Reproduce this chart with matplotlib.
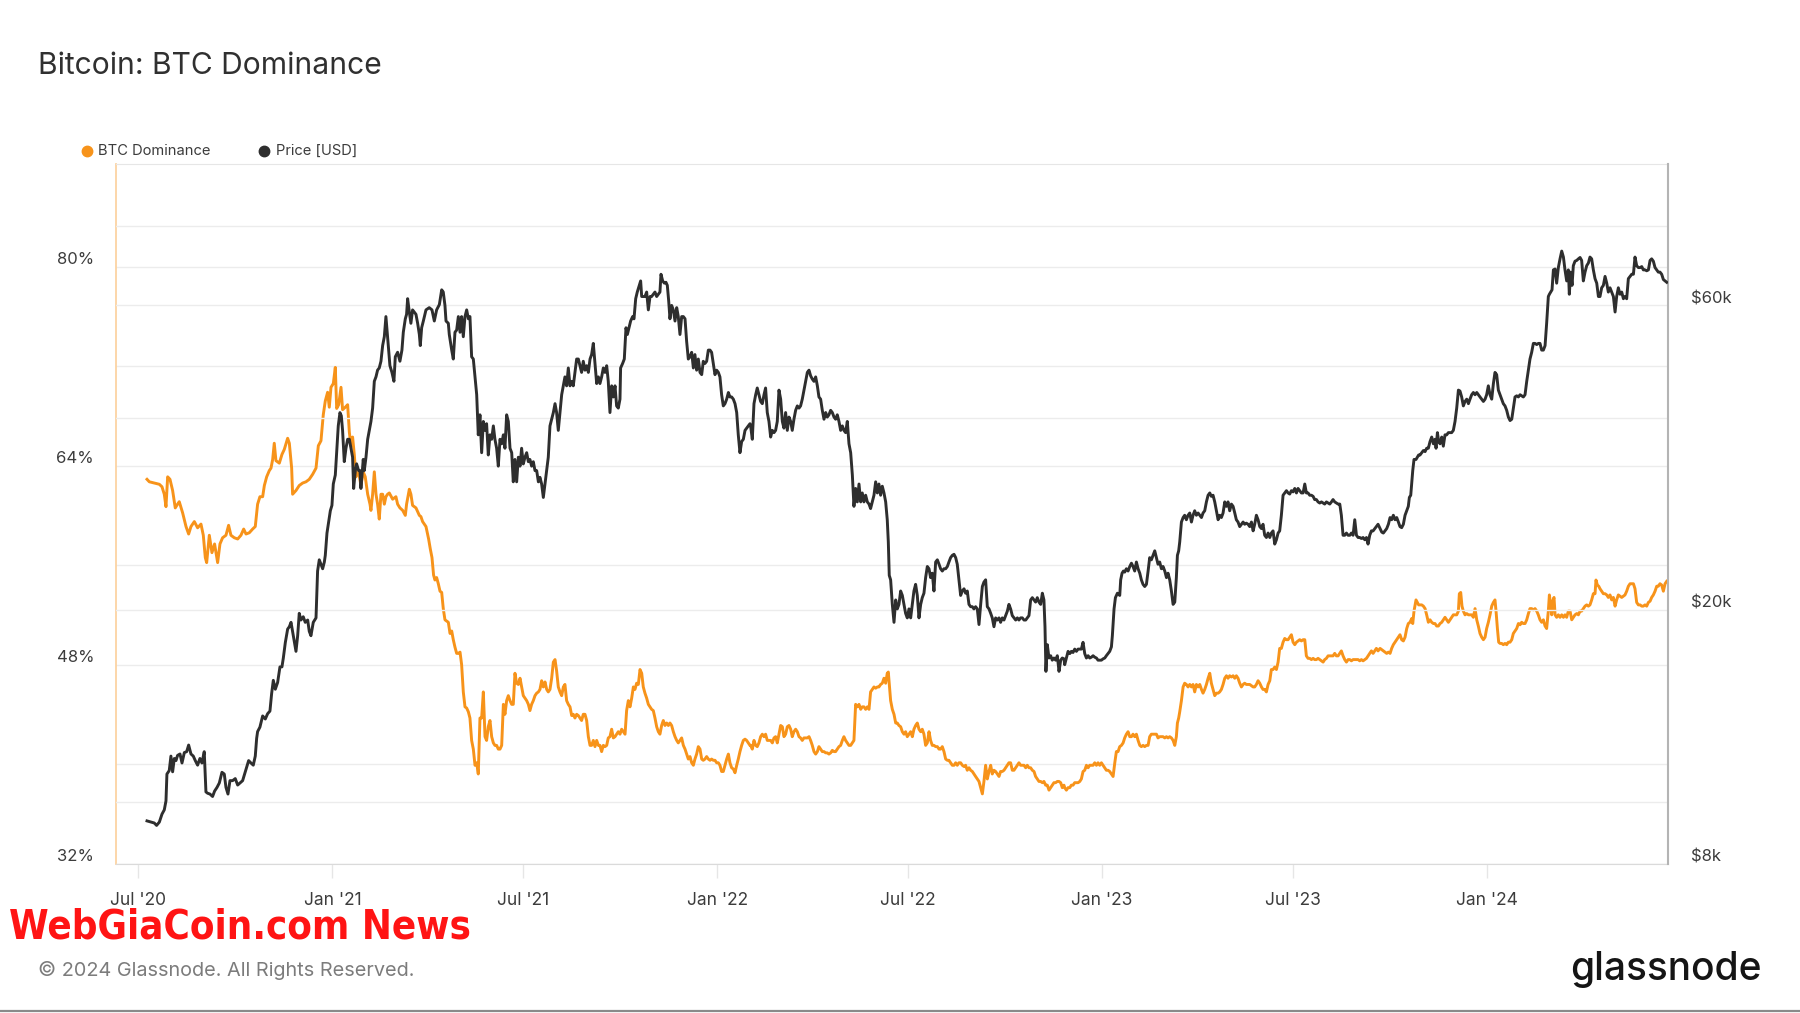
import numpy as np
import pandas as pd
import matplotlib
matplotlib.use("Agg")
import matplotlib.pyplot as plt
from matplotlib.lines import Line2D
from matplotlib.transforms import ScaledTranslation, blended_transform_factory
from matplotlib.ticker import NullLocator

# ---------------- data ----------------
START = pd.Timestamp("2020-07-01")   # day 0 of the day-offset arrays

price_day = [
    8.1, 11.9, 15.0, 17.2, 19.8, 22.3, 24.5, 26.1, 27.0, 29.2,
    30.8, 32.4, 34.0, 35.6, 37.1, 39.4, 41.3, 43.5, 45.7, 47.6,
    49.8, 52.0, 53.9, 56.1, 58.3, 60.2, 62.4, 64.0, 65.6, 67.8,
    70.3, 72.2, 74.5, 76.7, 79.2, 81.4, 83.0, 84.9, 86.8, 89.3,
    91.8, 94.1, 96.3, 98.8, 101.9, 104.5, 106.7, 108.9, 110.8, 112.1,
    113.0, 115.2, 117.8, 120.3, 122.5, 124.7, 126.3, 127.9, 129.8, 132.0,
    134.2, 136.1, 137.4, 139.3, 141.5, 143.1, 144.7, 146.9, 149.4, 151.0,
    152.5, 154.1, 156.3, 158.2, 160.5, 162.0, 163.6, 165.8, 168.4, 169.9,
    171.5, 173.1, 174.7, 176.3, 177.2, 178.8, 180.4, 182.0, 183.5, 184.8,
    186.7, 188.0, 189.5, 191.1, 192.4, 193.6, 195.2, 196.8, 198.4, 200.0,
    201.5, 203.1, 204.1, 205.7, 206.9, 208.8, 210.1, 211.0, 212.0, 213.2,
    214.2, 215.8, 217.4, 218.9, 220.5, 222.1, 223.7, 225.3, 226.8, 228.4,
    230.0, 231.6, 233.2, 234.7, 236.3, 237.3, 238.5, 240.4, 242.3, 243.6,
    245.8, 248.0, 249.9, 251.2, 253.1, 254.3, 255.3, 256.9, 258.4, 260.0,
    261.6, 263.2, 264.8, 266.4, 267.3, 268.6, 270.2, 272.7, 275.8, 278.4,
    280.6,
    282.8, 285.4, 287.6, 289.1, 290.7, 291.7, 293.9, 294.8, 297.1, 298.6,
    300.2, 301.8, 303.4, 305.0, 306.5, 308.1, 309.7, 311.3, 312.9, 314.4,
    316.0, 317.6, 319.2, 320.8, 322.3, 323.9, 325.5, 327.1, 328.7, 330.2,
    331.8, 333.4, 335.0, 336.6, 338.1, 339.7, 341.3, 342.9, 344.5, 346.1,
    347.6, 349.2, 350.8, 352.4, 354.0, 355.5, 357.1, 358.7, 360.3, 361.9,
    363.4, 365.0, 366.6, 368.2, 369.8, 371.3, 372.9, 374.5, 376.1, 377.7,
    379.3, 380.8, 382.4, 384.0, 385.6, 387.2, 388.7, 390.3, 391.9, 393.5,
    395.1, 396.6, 398.2, 399.8, 401.4, 403.0, 404.5, 406.1, 407.7, 409.3,
    410.9, 412.4, 414.0, 415.6, 417.2, 418.8, 420.3, 421.9, 423.5, 425.1,
    426.7, 428.3, 429.8, 431.4, 433.0, 434.6, 436.2, 437.7, 439.3, 440.9,
    442.5, 444.1, 445.6, 447.2, 448.8, 450.4, 452.0, 453.5, 455.1, 456.7,
    457.3, 459.2, 460.8, 462.4, 463.7, 465.2, 466.8, 468.7, 470.0, 471.6,
    473.1, 475.0, 476.3, 477.3, 478.8, 480.4, 482.0, 483.6, 485.2, 486.7,
    488.3, 489.9, 491.5, 493.1, 494.6, 495.6, 497.2, 498.8, 500.3, 501.6,
    502.9, 504.1, 505.7, 507.3, 508.9, 510.5, 512.0, 513.6, 515.2, 516.8,
    518.4, 519.9, 521.5, 523.1, 524.7, 526.3, 527.8, 529.4, 531.0, 532.6,
    534.2, 535.7, 537.3, 538.9, 540.5, 542.1, 543.6, 545.2, 546.8, 548.4,
    550.0, 551.5, 553.1, 554.7, 556.3, 557.9, 559.5, 561.0, 562.6, 564.2,
    565.8, 567.4, 568.9, 570.5, 572.1, 573.7, 575.3, 576.8, 578.4, 580.0,
    580.6, 582.2, 583.8, 585.4, 586.9, 588.5, 590.1, 591.7, 593.3, 594.8,
    596.4, 598.0, 599.6, 601.2, 602.8, 604.3, 605.9, 607.5, 609.1, 610.7,
    612.2, 613.8, 615.4, 617.0, 618.6, 620.1, 621.7, 623.3, 624.9, 626.5,
    628.0, 629.6, 631.2, 632.8, 634.4, 636.0, 637.5, 639.1, 640.7, 642.3,
    643.9, 645.4, 647.0, 648.6, 650.2, 651.8, 653.3, 654.9, 656.5, 658.1,
    659.7, 661.2, 662.8, 664.4, 666.0, 667.6, 669.1, 670.7, 672.3, 673.9,
    675.5, 677.1, 678.6, 680.2, 681.8, 683.4, 685.0, 686.5, 688.1, 689.7,
    691.3, 692.9, 694.4, 696.0, 697.6, 699.2, 700.8, 702.3, 703.9, 705.5,
    707.1, 708.7, 710.2, 711.2, 712.1, 713.4, 715.0, 716.6, 718.2, 719.7,
    721.3, 722.9, 724.5, 726.1, 727.6, 729.2, 730.8, 732.4, 734.0, 735.5,
    737.1, 738.7, 740.3, 741.9, 743.4, 745.0, 746.6, 748.2, 749.8, 751.3,
    752.9, 754.5, 756.1, 757.7, 759.3, 760.8, 762.4, 764.0, 765.6, 767.2,
    768.7, 770.3, 771.9, 773.5, 775.1, 776.6, 778.2, 779.8, 781.4, 783.0,
    784.5, 786.1, 787.7, 789.3, 790.9, 792.4, 794.0, 795.6, 797.2, 798.8,
    800.4, 801.9, 803.5, 805.1, 806.7, 808.3, 809.8, 811.4, 813.0, 814.6,
    816.2, 817.7, 819.3, 820.9, 822.5, 824.1, 825.6, 827.2, 828.8, 830.4,
    832.0, 833.6, 835.1, 836.7, 838.3, 839.9, 841.5, 843.0, 844.6, 846.2,
    847.8, 849.4, 850.9, 852.5, 854.1, 855.7, 857.3, 858.8, 859.8, 860.7,
    862.0, 863.6, 865.2, 866.7, 868.3, 869.9, 871.5, 873.1, 874.7, 876.2,
    877.8,
    878.5, 880.1, 881.7, 883.3, 884.8, 886.4, 888.0, 889.6, 891.2, 892.8,
    894.3, 895.9, 897.5, 899.1, 900.7, 902.2, 903.8, 905.4, 907.0, 908.6,
    910.1, 911.7, 913.3, 914.9, 916.5, 918.0, 919.6, 921.2, 922.8, 923.7,
    925.3, 926.6, 928.5, 930.7, 931.6, 932.9, 934.2, 935.4, 937.0, 938.6,
    940.2, 941.8, 943.3, 944.9, 946.5, 948.1, 949.7, 951.2, 952.8, 954.4,
    956.0, 957.6, 959.1, 960.7, 962.3, 963.9, 965.5, 967.0, 968.6, 970.2,
    971.8, 973.4, 975.0, 976.5, 978.1, 979.7, 981.3, 982.9, 984.4, 985.4,
    986.6, 987.6, 989.2, 990.8, 992.3, 993.9, 995.5, 997.1, 998.7, 1000.2,
    1001.8, 1003.4, 1005.0, 1006.6, 1008.2, 1009.7, 1011.3, 1012.9, 1014.5, 1016.1,
    1017.6, 1019.2, 1020.8, 1022.4, 1024.0, 1025.5, 1027.1, 1028.7, 1030.3, 1031.9,
    1033.4, 1035.0, 1036.6, 1038.2, 1039.8, 1041.3, 1042.9, 1044.5, 1046.1, 1047.7,
    1049.2, 1050.8, 1052.4, 1054.0, 1055.6, 1057.2, 1058.7, 1060.3, 1061.9, 1063.5,
    1065.1, 1066.6, 1068.2, 1069.8, 1071.4, 1073.0, 1074.5, 1076.1, 1077.7, 1079.3,
    1080.9, 1082.4, 1084.0, 1085.6, 1087.2, 1088.8, 1090.4, 1091.9, 1093.5, 1095.1,
    1096.7, 1098.3, 1099.8, 1101.4, 1103.0, 1104.6, 1106.2, 1107.7, 1109.3, 1110.9,
    1112.5, 1114.1, 1115.6, 1117.2, 1118.8, 1120.4, 1122.0, 1123.6, 1125.1, 1126.7,
    1128.3, 1129.9, 1131.5, 1133.0, 1134.6, 1136.2, 1137.8, 1139.4, 1140.9, 1142.5,
    1144.1, 1145.7, 1147.3, 1148.9, 1150.4, 1152.0, 1153.6, 1155.2, 1156.8, 1158.3,
    1159.9, 1161.5, 1163.1, 1164.7, 1166.2, 1167.8, 1169.4, 1171.0, 1172.6, 1174.1,
    1175.7,
    1177.6, 1179.2, 1180.7, 1182.3, 1183.9, 1185.5, 1187.1, 1188.6, 1190.2, 1191.8,
    1193.4, 1195.0, 1196.5, 1198.1, 1199.7, 1201.3, 1202.9, 1204.4, 1205.4, 1206.7,
    1207.6, 1208.6, 1209.8, 1211.7, 1213.0, 1214.2, 1215.5, 1217.1, 1218.7, 1220.3,
    1221.8, 1223.4, 1225.0, 1226.6, 1228.2, 1229.7, 1230.7, 1232.0, 1233.2, 1234.5,
    1236.1, 1237.6, 1239.2, 1240.8, 1242.4, 1244.0, 1245.5, 1247.1, 1248.7, 1250.3,
    1251.9, 1253.4, 1255.0, 1256.6, 1258.2, 1259.8, 1261.4, 1262.9, 1264.5, 1266.1,
    1267.7, 1269.3, 1270.8, 1272.4, 1274.0, 1275.6, 1277.2, 1278.7, 1280.3, 1281.9,
    1283.5, 1285.1, 1286.6, 1288.2, 1289.8, 1291.4, 1293.0, 1294.5, 1296.1, 1297.7,
    1299.3, 1300.9, 1302.5, 1304.0, 1305.6, 1307.2, 1308.8, 1310.4, 1311.9, 1313.5,
    1315.1, 1316.7, 1318.3, 1319.8, 1321.4, 1323.0, 1324.6, 1326.2, 1327.7, 1329.3,
    1330.9, 1332.5, 1334.1, 1335.6, 1337.2, 1338.2, 1339.4, 1340.7, 1342.0, 1343.6,
    1345.1, 1346.7, 1348.3, 1349.9, 1351.5, 1353.0, 1354.6, 1356.2, 1357.1, 1358.4,
    1359.7, 1360.9, 1362.5, 1364.1, 1365.7, 1367.3, 1368.8, 1370.4, 1372.0, 1373.6,
    1375.2, 1376.7, 1378.3, 1379.9, 1381.5, 1383.1, 1384.7, 1386.2, 1387.8, 1389.4,
    1391.0, 1392.6, 1394.1, 1395.7, 1397.3, 1398.9, 1400.5, 1402.0, 1403.6, 1405.2,
    1406.8, 1408.4, 1409.9, 1411.5, 1413.1, 1414.7, 1416.3, 1417.9, 1419.4, 1421.0,
    1422.6, 1424.2, 1425.8, 1427.3, 1428.9, 1430.5, 1432.1, 1433.7, 1435.2, 1436.8,
    1438.4, 1440.0, 1441.5, 1443.1, 1444.7, 1446.3, 1447.9, 1449.5,
]

price_usd = [
    9330, 9290, 9260, 9180, 9290, 9560, 9710, 10030, 11050, 11190,
    11790, 11140, 11690, 11600, 11820, 11880, 11500, 11940, 11980, 12270,
    11880, 11790, 11600, 11410, 11690, 11500, 11980, 10360, 10310, 10280,
    10190, 10390, 10530, 10700, 11120, 11050, 10530, 10280, 10790, 10790,
    10870, 10620, 10700, 10790, 11230, 11600, 11500, 11410, 11790, 12570,
    12880, 13090, 13630, 13480, 13740, 13870, 14770, 15500, 15010, 15380,
    16270, 16270, 16800, 17770, 18650, 18810, 19110, 18210, 17210, 18210,
    19740, 19270, 19500, 19110, 19270, 18500, 18210, 19110, 19420, 23000,
    23950, 23570, 23190, 23760, 24340, 26380, 27470, 28600, 29150, 31500,
    32530, 35260, 38840, 40750, 40290, 38220, 34140, 35830, 37010, 37010,
    35830, 34690, 30990, 33060, 33870, 33060, 33060, 30990, 32530, 34420,
    33060, 34690, 37010, 38220, 39470, 41420, 45630, 46380, 47510, 47890,
    49060, 51910, 53610, 57640, 53610, 51080, 48280, 47130, 45630, 49860,
    50670, 49060, 51080, 54480, 57180, 58110, 61490, 58580, 56260, 59050,
    58580, 58110, 56260, 54040, 51910, 55370, 56730, 59050, 59530, 59050,
    56730,
    59050, 60200, 63490, 62980, 60010, 56720, 56260, 54030, 51070, 49450,
    54470, 54910, 57640, 54470, 57640, 53600, 57640, 59050, 57180, 57640,
    49850, 49450, 46360, 43470, 37610, 40430, 35260, 39470, 38220, 39150,
    34970, 37610, 37010, 38840, 37010, 35830, 33590, 37010, 36410, 37610,
    35830, 40430, 39470, 35830, 35260, 31740, 34410, 31740, 34690, 33590,
    35830, 33860, 34690, 35260, 34130, 34410, 33590, 34130, 33050, 33050,
    31740, 32260, 31490, 30000, 31490, 33050, 34690, 38840, 39790, 40760,
    42090, 40760, 38220, 40760, 43470, 44890, 46360, 44890, 47880, 44890,
    45620, 44890, 47120, 49450, 49450, 48270, 47120, 49050, 47500, 48270,
    47120, 49450, 50250, 52320, 48660, 45260, 46360, 45260, 46360, 47880,
    47120, 48270, 45620, 40760, 44890, 43120, 44890, 41750, 41420, 42780,
    47880, 48660, 49450, 55360, 54030, 55360, 56720, 57640, 57180, 61480,
    62980, 64520, 65560, 61970, 61970, 61970, 62980, 59050, 61970, 61970,
    62480, 62980, 61970, 62480, 62980, 67160, 65560, 65030, 65240, 64520,
    60990, 57180, 60010, 59050, 56720, 59530, 57640, 54030, 57640, 57640,
    57180, 52750, 49450, 49850, 50660, 47880, 50250, 47500, 49450, 47120,
    46740, 49050, 48660, 49050, 51070, 51070, 50660, 48660, 46740, 47500,
    47120, 46360, 43470, 41750, 42090, 42780, 43820, 43120, 43120, 42780,
    42090, 40760, 37610, 35260, 36710, 37010, 38220, 38530, 38840, 39150,
    38840, 37010, 42090, 43470, 44540, 43470, 42430, 42090, 43470, 44540,
    40760, 39470, 37310, 38220, 37910, 38220, 39470, 44200, 42780, 39470,
    38530, 40760, 38220, 40100, 39470, 38220, 39790, 41090, 41750, 41420,
    41750, 42780, 44200, 45620, 47120, 47500, 46550, 46000, 45620, 46360,
    44890, 43120, 42780, 41090, 39790, 40760, 40100, 40430, 41090, 40760,
    40100, 39790, 40430, 39470, 38220, 38840, 38220, 37910, 39470, 36410,
    35260, 32520, 29050, 30990, 29520, 31490, 29520, 30490, 29520, 30240,
    29520, 29290, 28820, 29520, 30240, 31740, 30490, 31490, 30240, 31240,
    30490, 29520, 27680, 25550, 22640, 22280, 20390, 19110, 20720, 20060,
    20390, 21400, 21060, 20390, 19740, 19420, 20060, 19420, 20390, 21400,
    21920, 21060, 19420, 20390, 20890, 21230, 22460, 23380, 23190, 22460,
    22820, 21400, 23760, 23950, 23570, 23190, 23000, 23190, 23190, 23380,
    23760, 24140, 24340, 24430, 24140, 23570, 22280, 21060, 21400, 21570,
    21230, 21400, 20390, 20220, 20220, 20060, 20220, 20060, 18960, 20390,
    21750, 22100, 22280, 20220, 20060, 19740, 19420, 18810, 19420, 19270,
    19420, 19110, 19420, 19270, 19580, 19900, 20390, 20060, 19580, 19420,
    19270, 19420, 19270, 19420, 19420, 19270, 19270, 19420, 19580, 20720,
    20890, 20720, 20560, 20890, 20560, 20390, 21230, 20720, 18810, 16010,
    17630, 16800, 16940, 16670, 16800, 16670, 16940, 16010, 16670, 16800,
    16750,
    16400, 16800, 17210, 17070, 17210, 17140, 17350, 17210, 17350, 17350,
    17350, 17780, 17070, 16800, 16940, 16800, 16850, 16940, 16850, 16800,
    16670, 16670, 16670, 16750, 16800, 16940, 17070, 17210, 17490, 18210,
    20060, 20890, 21230, 21060, 22280, 22820, 23000, 22910, 23190, 23000,
    23380, 23660, 23380, 23000, 23760, 23190, 22820, 22280, 21920, 21750,
    21920, 23000, 24140, 23950, 24340, 24740, 24140, 23570, 23760, 23190,
    23380, 23000, 22460, 22820, 22280, 21400, 20390, 20560, 22460, 24340,
    24740, 25550, 27450, 27900, 28130, 27680, 28130, 28360, 27450, 28130,
    28590, 28130, 28360, 28130, 27900, 28360, 28590, 29520, 30240, 30490,
    30120, 30240, 29520, 28590, 27680, 28130, 27900, 28360, 29520, 29050,
    29520, 28590, 29290, 29050, 28360, 27680, 27450, 27000, 27230, 27450,
    27230, 27340, 27230, 27000, 27450, 26590, 27230, 28130, 27680, 27000,
    26810, 27230, 26170, 25960, 26380, 25960, 26380, 26590, 25350, 25750,
    26380, 26590, 28130, 30240, 30490, 30740, 30490, 30370, 30740, 30610,
    30990, 30490, 30990, 30740, 30490, 30490, 31490, 30490, 30490, 30240,
    30240, 30120, 29770, 29770, 29520, 29400, 29520, 29400, 29290, 29520,
    29400, 29290, 29520, 29770, 29520, 29400, 29290, 29290, 28130, 26170,
    26170, 26380, 26170, 26170, 26380, 26170, 27680, 26170, 25960, 25960,
    25870, 25960, 25750, 25960, 25350, 26170, 26590, 26590, 26810, 27000,
    27230,
    26810, 26470, 26380, 26590, 26810, 27230, 27900, 27680, 28130, 27680,
    27900, 27450, 27000, 26900, 27230, 28130, 28590, 29050, 30000, 30240,
    31490, 33050, 34410, 34410, 34690, 34970, 34970, 35260, 35540, 35400,
    35830, 35830, 36710, 37310, 36410, 37010, 35830, 37910, 36710, 36410,
    37310, 36100, 37610, 37610, 37910, 37910, 37910, 38220, 39470, 41420,
    44200, 44060, 43120, 41750, 42430, 42780, 42090, 42780, 43470, 43820,
    43470, 43820, 43470, 43120, 42780, 42430, 42780, 43470, 44890, 43470,
    42780, 45260, 47120, 46740, 44200, 43470, 42780, 42090, 41750, 41090,
    40100, 39600, 39790, 41420, 43120, 43300, 43120, 43470, 43300, 43120,
    43470, 45620, 47500, 49450, 50660, 52320, 52320, 52100, 52320, 52320,
    51070, 51070, 51900, 56260, 61970, 62480, 62980, 63490, 68230, 68450,
    65030, 68800, 71000, 73020, 71460, 68230, 65560, 68230, 62480, 67680,
    64520, 69270, 70400, 70600, 71000, 71350, 70600, 65560, 67680, 69270,
    69950, 71460, 71000, 68230, 66100, 65030, 61970, 61970, 63960, 64520,
    66640, 65030, 62980, 63960, 62980, 61970, 58600, 61970, 63960, 62480,
    62980, 61480, 61970, 61480, 66100, 66640, 67160, 67160, 71460, 69270,
    68800, 68800, 69040, 68230, 68230, 68010, 68230, 70600, 71000, 70400,
    68800, 68230, 67680, 67680, 67160, 65900, 65560, 65240,
]

dom_day = [
    8.1, 10.3, 15.0, 19.8, 22.3, 24.5, 26.1, 27.7, 29.9, 32.4,
    34.9, 37.1, 38.7, 41.9, 45.1, 47.6, 49.8, 53.0, 56.1, 59.3,
    61.5, 63.4, 64.7, 67.2, 69.7, 72.2, 75.1, 77.3, 79.8, 83.0,
    85.5, 87.7, 90.9, 94.1, 97.2, 99.8, 102.0, 105.1, 108.3, 110.8,
    113.0, 115.2, 117.8, 119.4, 121.6, 124.1, 125.7, 127.3, 128.8, 130.4,
    133.6, 136.1, 138.3, 141.5, 143.1, 145.3, 146.2, 149.4, 152.5, 155.7,
    158.9, 162.0, 165.2, 168.4, 170.6, 173.1, 175.3, 177.2, 179.4, 181.0,
    182.6, 184.8, 186.7, 188.0, 189.9, 192.1, 193.6, 196.2, 198.4, 200.0,
    201.5, 203.1, 204.7, 206.3, 208.8, 211.0, 213.2, 215.1, 217.4, 219.6,
    220.5, 222.1, 223.7, 225.3, 226.8, 228.4, 230.0, 231.6, 233.2, 234.7,
    236.3, 237.9, 241.1, 244.2, 245.8, 248.0, 250.6, 253.1, 254.3, 256.9,
    258.4, 260.0, 263.2, 266.4, 267.9, 269.5, 272.7, 275.2, 276.8, 278.4,
    279.9, 281.2,
    282.8, 284.4, 286.0, 287.6, 289.1, 290.7, 292.3, 293.9, 295.5, 297.1,
    298.6, 300.2, 301.8, 303.4, 305.0, 306.5, 308.1, 309.7, 311.3, 312.9,
    314.4, 316.0, 317.6, 319.2, 320.8, 322.3, 323.9, 325.5, 327.1, 328.7,
    330.2, 331.8, 333.4, 335.0, 336.6, 338.1, 339.7, 341.3, 342.9, 344.5,
    346.1, 347.6, 349.2, 350.8, 352.4, 354.0, 355.5, 357.1, 358.7, 360.3,
    361.9, 363.4, 365.0, 366.6, 368.2, 369.8, 371.3, 372.9, 374.5, 376.1,
    377.7, 379.3, 380.8, 382.4, 384.0, 385.6, 387.2, 388.7, 390.3, 391.9,
    393.5, 395.1, 396.6, 398.2, 399.8, 401.4, 403.0, 404.5, 406.1, 407.7,
    409.3, 410.9, 412.4, 414.0, 415.6, 417.2, 418.8, 420.3, 421.9, 423.5,
    425.1, 426.7, 428.3, 429.8, 431.4, 433.0, 434.6, 436.2, 437.7, 439.3,
    440.9, 442.5, 444.1, 445.6, 447.2, 448.8, 450.4, 452.0, 453.5, 455.1,
    456.7, 458.3, 459.9, 461.5, 463.0, 464.6, 466.2, 467.8, 469.4, 470.9,
    472.5, 474.1, 475.7, 477.3, 478.8, 480.4, 482.0, 483.6, 485.2, 486.7,
    488.3, 489.9, 491.5, 493.1, 494.6, 496.2, 497.8, 499.4, 501.0, 502.6,
    504.1, 505.7, 507.3, 508.9, 510.5, 512.0, 513.6, 515.2, 516.8, 518.4,
    519.9, 521.5, 523.1, 524.7, 526.3, 527.8, 529.4, 531.0, 532.6, 534.2,
    535.7, 537.3, 538.9, 540.5, 542.1, 543.6, 545.2, 546.8, 548.4, 550.0,
    551.5, 553.1, 554.7, 556.3, 557.9, 559.5, 561.0, 562.6, 564.2, 565.8,
    567.4, 568.9, 570.5, 572.1, 573.7, 575.3, 576.8, 578.4, 580.0,
    580.6, 582.2, 583.8, 585.4, 586.9, 588.5, 590.1, 591.7, 593.3, 594.8,
    596.4, 598.0, 599.6, 601.2, 602.8, 604.3, 605.9, 607.5, 609.1, 610.7,
    612.2, 613.8, 615.4, 617.0, 618.6, 620.1, 621.7, 623.3, 624.9, 626.5,
    628.0, 629.6, 631.2, 632.8, 634.4, 636.0, 637.5, 639.1, 640.7, 642.3,
    643.9, 645.4, 647.0, 648.6, 650.2, 651.8, 653.3, 654.9, 656.5, 658.1,
    659.7, 661.2, 662.8, 664.4, 666.0, 667.6, 669.1, 670.7, 672.3, 673.9,
    675.5, 677.1, 678.6, 680.2, 681.8, 683.4, 685.0, 686.5, 688.1, 689.7,
    691.3, 692.9, 694.4, 696.0, 697.6, 699.2, 700.8, 702.3, 703.9, 705.5,
    707.1, 708.7, 710.2, 711.2, 712.1, 713.4, 715.0, 716.6, 718.2, 719.7,
    721.3, 722.9, 724.5, 726.1, 727.6, 729.2, 730.8, 732.4, 734.0, 735.5,
    737.1, 738.7, 740.3, 741.9, 743.4, 745.0, 746.6, 748.2, 749.8, 751.3,
    752.9, 754.5, 756.1, 757.7, 759.3, 760.8, 762.4, 764.0, 765.6, 767.2,
    768.7, 770.3, 771.9, 773.5, 775.1, 776.6, 778.2, 779.8, 781.4, 783.0,
    784.5, 786.1, 787.7, 789.3, 790.9, 792.4, 794.0, 795.6, 797.2, 798.8,
    800.4, 801.9, 803.5, 805.1, 806.7, 808.3, 809.8, 811.4, 813.0, 814.6,
    816.2, 817.7, 819.3, 820.9, 822.5, 824.1, 825.6, 827.2, 828.8, 830.4,
    832.0, 833.6, 835.1, 836.7, 838.3, 839.9, 841.5, 843.0, 844.6, 846.2,
    847.8, 849.4, 850.9, 852.5, 854.1, 855.7, 857.3, 858.8, 860.4, 862.0,
    863.6, 865.2, 866.7, 868.3, 869.9, 871.5, 873.1, 874.7, 876.2, 877.8,
    878.5, 880.1, 881.7, 883.3, 884.8, 886.4, 888.0, 889.6, 891.2, 892.8,
    894.3, 895.9, 897.5, 899.1, 900.7, 902.2, 903.8, 905.4, 907.0, 908.6,
    910.1, 911.7, 913.3, 914.9, 916.5, 918.0, 919.6, 921.2, 922.8, 924.4,
    926.0, 927.5, 929.1, 930.7, 932.3, 933.9, 935.4, 937.0, 938.6, 940.2,
    941.8, 943.3, 944.9, 946.5, 948.1, 949.7, 951.2, 952.8, 954.4, 956.0,
    957.6, 959.1, 960.7, 962.3, 963.9, 965.5, 967.0, 968.6, 970.2, 971.8,
    973.4, 975.0, 976.5, 978.1, 979.7, 981.3, 982.9, 984.4, 985.4, 986.6,
    987.6, 989.2, 990.8, 992.3, 993.9, 995.5, 997.1, 998.7, 1000.2, 1001.8,
    1003.4, 1005.0, 1006.6, 1008.2, 1009.7, 1011.3, 1012.9, 1014.5, 1016.1, 1017.6,
    1019.2, 1020.8, 1022.4, 1024.0, 1025.5, 1027.1, 1028.7, 1030.3, 1031.9, 1033.4,
    1035.0, 1036.6, 1038.2, 1039.8, 1041.3, 1042.9, 1044.5, 1046.1, 1047.7, 1049.2,
    1050.8, 1052.4, 1054.0, 1055.6, 1057.2, 1058.7, 1060.3, 1061.9, 1063.5, 1065.1,
    1066.6, 1068.2, 1069.8, 1071.4, 1073.0, 1074.5, 1076.1, 1077.7, 1079.3, 1080.9,
    1082.4, 1084.0, 1085.6, 1087.2, 1088.8, 1090.4, 1091.9, 1093.5, 1095.1, 1096.7,
    1098.3, 1099.8, 1101.4, 1103.0, 1104.6, 1106.2, 1107.7, 1109.3, 1110.9, 1112.5,
    1114.1, 1115.6, 1117.2, 1118.8, 1120.4, 1122.0, 1123.6, 1125.1, 1126.7, 1128.3,
    1129.9, 1131.5, 1133.0, 1134.6, 1136.2, 1137.8, 1139.4, 1140.9, 1142.5, 1144.1,
    1145.7, 1147.3, 1148.9, 1150.4, 1152.0, 1153.6, 1155.2, 1156.8, 1158.3, 1159.9,
    1161.5, 1163.1, 1164.7, 1166.2, 1167.8, 1169.4, 1171.0, 1172.6, 1174.1, 1175.7,
    1177.6, 1179.2, 1180.7, 1182.3, 1183.9, 1185.5, 1187.1, 1188.6, 1190.2, 1191.8,
    1193.4, 1195.0, 1196.5, 1198.1, 1199.7, 1201.3, 1202.9, 1204.4, 1206.0, 1207.6,
    1208.6, 1209.8, 1210.8, 1211.7, 1213.0, 1214.2, 1215.5, 1217.1, 1218.7, 1220.3,
    1221.8, 1223.4, 1225.0, 1226.6, 1228.2, 1229.7, 1231.3, 1232.9, 1234.5, 1236.1,
    1237.6, 1239.2, 1240.8, 1242.4, 1244.0, 1245.5, 1247.1, 1248.7, 1250.3, 1251.9,
    1252.8, 1254.1, 1255.3, 1256.6, 1258.2, 1259.8, 1261.4, 1262.9, 1264.5, 1266.1,
    1267.7, 1269.3, 1270.8, 1272.4, 1274.0, 1275.6, 1277.2, 1278.7, 1280.3, 1281.9,
    1283.5, 1285.1, 1286.6, 1287.6, 1288.9, 1290.1, 1291.4, 1293.0, 1294.5, 1296.1,
    1297.7, 1299.3, 1300.9, 1302.5, 1304.0, 1305.6, 1307.2, 1308.8, 1310.4, 1311.9,
    1313.5, 1315.1, 1316.7, 1318.3, 1319.8, 1321.4, 1323.0, 1324.6, 1326.2, 1327.7,
    1329.3, 1330.9, 1332.5, 1334.1, 1335.6, 1337.2, 1338.2, 1339.4, 1340.4, 1341.7,
    1342.6, 1343.6, 1345.1, 1346.7, 1348.3, 1349.9, 1351.5, 1353.0, 1354.6, 1356.2,
    1357.8, 1359.4, 1360.9, 1362.5, 1364.1, 1365.7, 1367.3, 1368.8, 1370.4, 1372.0,
    1373.6, 1375.2, 1376.7, 1378.3, 1379.9, 1381.5, 1382.4, 1383.7, 1385.0, 1386.2,
    1387.8, 1389.4, 1391.0, 1392.6, 1394.1, 1395.7, 1397.3, 1398.9, 1400.5, 1402.0,
    1403.6, 1405.2, 1406.8, 1408.4, 1409.9, 1411.5, 1413.1, 1414.7, 1416.3, 1417.9,
    1419.4, 1421.0, 1422.6, 1424.2, 1425.8, 1427.3, 1428.9, 1430.5, 1432.1, 1433.7,
    1435.2, 1436.8, 1438.4, 1440.0, 1441.5, 1443.1, 1444.7, 1446.3, 1447.9, 1449.5,
]

dom_pct = [
    62.9, 62.7, 62.6, 62.5, 62.3, 61.7, 60.7, 63.1, 62.9, 62.0,
    60.6, 60.9, 61.1, 60.2, 59.1, 58.5, 59.1, 59.5, 59.0, 59.3,
    58.4, 56.6, 56.2, 58.4, 57.0, 57.7, 56.2, 57.7, 58.2, 58.4,
    59.2, 58.4, 58.2, 58.1, 58.4, 58.9, 58.5, 58.6, 58.9, 59.1,
    60.9, 61.5, 61.5, 62.4, 63.1, 63.6, 63.8, 64.5, 65.8, 64.4,
    64.2, 64.9, 65.3, 66.2, 65.8, 63.8, 61.7, 62.0, 62.4, 62.6,
    62.7, 62.9, 63.3, 63.8, 65.6, 66.0, 68.1, 69.2, 69.9, 68.7,
    70.3, 70.6, 71.9, 68.6, 68.9, 70.3, 68.5, 68.7, 68.9, 66.7,
    65.6, 66.3, 64.9, 63.1, 63.5, 62.4, 63.5, 63.1, 61.7, 60.9,
    60.4, 61.7, 63.5, 61.7, 60.9, 59.7, 61.7, 61.7, 60.9, 61.5,
    61.7, 61.8, 61.3, 61.5, 60.9, 60.6, 60.4, 60.0, 60.9, 62.1,
    61.7, 60.8, 60.6, 60.0, 59.9, 59.5, 59.1, 58.1, 57.3, 56.6,
    55.2, 54.8,
    55.0, 54.5, 53.9, 53.8, 52.5, 51.6, 51.5, 51.4, 50.5, 50.7,
    50.0, 49.4, 48.9, 48.9, 49.0, 48.0, 45.8, 44.6, 44.5, 44.2,
    43.7, 41.9, 41.2, 39.9, 40.1, 39.2, 43.7, 43.7, 45.8, 42.2,
    41.9, 43.0, 43.5, 42.2, 41.7, 41.5, 41.5, 41.2, 41.2, 41.5,
    44.8, 44.0, 45.1, 45.5, 45.1, 44.8, 44.8, 47.3, 46.5, 46.4,
    46.9, 46.2, 45.5, 45.3, 45.1, 44.8, 44.3, 44.8, 45.1, 45.5,
    45.7, 45.8, 46.0, 46.7, 46.2, 46.6, 46.0, 45.8, 46.0, 46.9,
    48.2, 48.4, 47.5, 46.2, 45.8, 45.5, 46.2, 46.4, 45.1, 44.8,
    44.6, 43.9, 44.0, 43.7, 44.0, 43.9, 43.7, 43.5, 44.0, 44.0,
    43.5, 42.2, 41.5, 41.5, 41.9, 41.4, 41.9, 41.5, 41.5, 41.0,
    41.5, 41.4, 41.5, 42.1, 42.2, 42.8, 42.1, 42.2, 42.4, 42.6,
    42.4, 42.8, 42.6, 42.4, 44.3, 45.1, 44.6, 45.3, 46.2, 46.0,
    46.5, 46.4, 47.6, 47.3, 46.2, 45.7, 45.3, 44.8, 44.6, 44.4,
    44.3, 43.7, 43.0, 42.6, 42.4, 43.1, 43.5, 43.1, 43.3, 43.1,
    43.3, 43.1, 42.6, 42.2, 41.9, 41.7, 41.9, 42.1, 41.5, 41.2,
    40.8, 40.4, 40.6, 40.1, 39.9, 40.4, 40.8, 41.4, 41.2, 40.4,
    40.3, 40.4, 40.6, 40.4, 40.3, 40.4, 40.3, 40.3, 40.1, 40.1,
    39.9, 39.4, 39.4, 39.9, 40.4, 40.8, 40.1, 39.7, 39.6, 39.3,
    39.9, 40.4, 41.0, 41.5, 41.9, 42.0, 41.9, 41.7, 41.5,
    41.5, 41.2, 41.9, 41.5, 41.4, 41.7, 42.2, 42.4, 42.2, 42.4,
    41.9, 41.9, 41.9, 41.7, 42.1, 42.2, 41.7, 42.4, 43.1, 43.0,
    42.2, 42.4, 43.0, 43.1, 42.8, 42.2, 42.6, 42.8, 42.6, 42.2,
    42.1, 41.9, 42.1, 42.1, 42.1, 42.2, 41.9, 41.5, 41.0, 40.8,
    41.0, 41.4, 41.2, 41.0, 41.0, 40.9, 40.9, 40.8, 40.9, 41.1,
    41.0, 41.0, 41.2, 41.4, 41.5, 41.9, 42.2, 41.9, 41.7, 41.5,
    41.5, 41.7, 41.9, 44.8, 44.6, 44.8, 44.4, 44.6, 44.6, 44.4,
    44.6, 44.4, 45.8, 46.0, 46.2, 46.1, 46.2, 46.2, 46.4, 46.5,
    46.9, 46.5, 47.3, 47.4, 46.5, 45.1, 44.4, 44.0, 43.3, 43.3,
    43.1, 43.0, 42.6, 42.4, 42.6, 42.2, 42.4, 42.6, 42.2, 42.8,
    43.1, 43.3, 42.8, 42.6, 42.8, 42.4, 41.5, 41.7, 42.6, 41.9,
    41.5, 41.5, 41.4, 41.4, 41.2, 41.2, 41.4, 41.0, 40.4, 40.3,
    40.3, 40.1, 39.9, 39.9, 40.1, 39.9, 40.1, 40.1, 39.9, 39.8,
    39.9, 39.5, 39.7, 39.5, 39.4, 39.2, 39.0, 38.8, 38.6, 38.1,
    37.6, 38.6, 39.9, 38.8, 39.4, 39.9, 39.2, 39.5, 39.4, 39.2,
    39.0, 39.4, 39.4, 39.5, 39.7, 39.9, 40.1, 40.1, 39.5, 39.5,
    39.7, 39.9, 40.1, 39.9, 39.9, 39.9, 39.7, 39.9, 39.7, 39.7,
    39.5, 39.4, 39.0, 38.8, 38.6, 38.6, 38.5, 38.6, 38.3, 38.3,
    37.9, 38.1, 38.3, 38.5, 38.5, 38.6, 38.6, 38.5, 38.1, 38.3,
    38.1, 37.9, 38.1, 38.1, 38.3, 38.3, 38.5, 38.5, 38.5, 38.6,
    38.8, 39.4, 39.5, 39.9, 39.7, 39.9, 39.9, 39.9, 40.1, 39.9,
    40.1, 39.9, 40.1, 39.9, 39.7, 39.5, 39.5, 39.4, 39.2, 39.0,
    40.1, 41.0, 41.0, 41.4, 41.5, 41.7, 42.1, 42.4, 42.6, 42.2,
    42.2, 42.4, 42.2, 42.4, 41.9, 41.5, 41.4, 41.5, 41.4, 41.5,
    41.5, 42.2, 42.4, 42.4, 42.4, 42.4, 42.1, 42.2, 42.2, 42.2,
    42.1, 42.2, 42.1, 42.2, 42.1, 41.9, 41.5, 42.2, 43.3, 43.7,
    44.2, 45.1, 46.2, 46.5, 46.4, 46.2, 46.4, 46.2, 46.4, 45.8,
    46.4, 46.2, 46.4, 46.0, 45.7, 46.0, 46.4, 46.9, 47.3, 46.5,
    46.0, 45.5, 45.7, 45.7, 45.8, 46.0, 46.4, 46.9, 47.1, 46.9,
    47.1, 47.0, 47.1, 46.9, 47.1, 46.9, 46.5, 46.2, 46.4, 46.5,
    46.4, 46.4, 46.4, 46.3, 46.2, 46.2, 46.4, 46.7, 46.5, 46.2,
    46.0, 46.0, 45.8, 46.4, 46.7, 47.6, 47.6, 47.8, 47.6, 48.2,
    49.3, 49.3, 49.8, 50.1, 50.0, 50.0, 50.2, 50.4, 49.8, 49.6,
    49.8, 49.9, 50.0, 49.9, 50.0, 50.0, 48.7, 48.5, 48.5, 48.4,
    48.5, 48.4, 48.4, 48.5, 48.4, 48.3, 48.2, 48.4, 48.5, 48.7,
    48.7, 48.7, 48.7, 48.9, 48.7, 48.7, 48.9, 49.1, 48.7, 48.4,
    48.2, 48.4, 48.4, 48.3, 48.4, 48.4, 48.4, 48.4, 48.3, 48.4,
    48.3, 48.4, 48.5, 48.7, 48.9, 49.1, 48.9, 49.1, 49.3, 49.1,
    49.3, 49.2, 49.1, 49.0, 48.9, 49.0, 48.9, 49.3, 49.6, 49.8,
    50.0, 50.2, 50.4, 50.0, 49.9, 50.2, 50.9, 51.3, 51.4, 51.7,
    51.3, 52.3, 52.8, 53.2, 53.0, 52.8, 52.8, 52.8, 52.7, 52.5,
    52.0, 51.4, 51.6, 51.4, 51.3, 51.3, 51.1, 51.1, 51.3, 51.4,
    51.6, 51.8, 51.6, 51.4, 51.6, 51.8, 52.0, 52.0, 52.0, 52.3,
    53.7, 53.8, 52.7, 52.3, 52.0, 52.1, 52.0, 52.0, 52.0, 51.8,
    52.5, 51.6, 51.1, 50.5, 50.2, 50.0, 50.2, 50.9, 51.4, 52.0,
    52.7, 53.0, 53.2, 52.3, 50.9, 49.8, 49.7, 49.7, 49.6, 49.7,
    49.6, 49.8, 49.8, 50.0, 50.5, 50.7, 50.9, 51.3, 51.2, 51.4,
    51.3, 51.3, 51.6, 52.1, 52.5, 52.5, 52.4, 52.5, 52.3, 52.0,
    51.6, 51.4, 51.6, 51.1, 50.9, 52.3, 53.6, 52.8, 52.0, 53.2,
    53.4, 52.0, 51.8, 52.0, 51.8, 52.0, 51.8, 52.0, 51.8, 52.3,
    52.3, 51.6, 51.8, 52.0, 52.1, 52.0, 52.3, 52.3, 52.5, 52.7,
    52.8, 52.7, 52.8, 53.2, 53.7, 53.7, 54.8, 54.4, 54.3, 54.1,
    53.9, 53.7, 53.7, 53.6, 53.4, 53.6, 53.2, 53.4, 52.7, 53.2,
    53.6, 53.5, 53.4, 53.5, 53.6, 53.9, 54.3, 54.5, 54.5, 54.5,
    54.1, 53.0, 52.8, 52.8, 52.7, 52.7, 52.8, 52.7, 53.0, 53.1,
    53.4, 53.6, 53.9, 54.3, 54.3, 54.5, 54.4, 53.9, 54.5, 54.7,
]

x_tick_dates = ["2020-07-01", "2021-01-01", "2021-07-01", "2022-01-01",
                "2022-07-01", "2023-01-01", "2023-07-01", "2024-01-01"]
x_tick_labels = ["Jul '20", "Jan '21", "Jul '21", "Jan '22",
                 "Jul '22", "Jan '23", "Jul '23", "Jan '24"]
left_grid = [32, 40, 48, 56, 64, 72, 80]
left_labels = {32: "32%", 48: "48%", 64: "64%", 80: "80%"}
right_grid = [8000, 10000, 20000, 40000, 60000, 80000]
right_labels = {8000: "$8k", 20000: "$20k", 60000: "$60k"}

# ---------------- style ----------------
plt.rcParams["font.family"] = ["Inter", "DejaVu Sans"]
ORANGE = "#f7931a"
BLACK = "#2e2e2e"
GRID = "#ececec"
TXT = "#3c3c3c"

W, H = 1800, 1013
fig = plt.figure(figsize=(W / 100, H / 100), dpi=100)
fig.patch.set_facecolor("white")


def fx(px):
    return px / W


def fy(py):
    return 1 - py / H


ax = fig.add_axes([fx(116), fy(863.5), fx(1668) - fx(116), fy(164) - fy(863.5)])
ax2 = ax.twinx()

dom_dates = START + pd.to_timedelta(np.array(dom_day), unit="D")
price_dates = START + pd.to_timedelta(np.array(price_day), unit="D")

ax.plot(dom_dates, dom_pct, color=ORANGE, lw=2.1, solid_joinstyle="round", zorder=3)
ax2.plot(price_dates, price_usd, color=BLACK, lw=2.1, solid_joinstyle="round", zorder=3)

ax.set_xlim(START + pd.Timedelta(days=-21.3), START + pd.Timedelta(days=1450.7))
ax.set_ylim(32, 88.26)
ax2.set_yscale("log")
ax2.set_ylim(8000, 100000)

# grids
ax.set_yticks(left_grid)
ax.yaxis.grid(True, color=GRID, lw=1.0)
ax.set_axisbelow(True)
ax.tick_params(axis="y", length=0, labelleft=False)
ax2.set_yticks(right_grid)
ax2.yaxis.set_minor_locator(NullLocator())
ax2.yaxis.grid(True, color=GRID, lw=1.0)
ax2.set_axisbelow(True)
ax2.tick_params(axis="y", which="both", length=0, labelright=False)

# x ticks
ax.set_xticks(pd.to_datetime(x_tick_dates))
ax.set_xticklabels(x_tick_labels)
ax.tick_params(axis="x", length=10, width=1, color="#e6e6e6", pad=10.6,
               labelsize=12.5, labelcolor=TXT)

# y labels (drawn slightly above their grid lines, like the reference)
off_l = ScaledTranslation(-22 / 100, 7.3 / 100, fig.dpi_scale_trans)
tr_l = blended_transform_factory(ax.transAxes, ax.transData) + off_l
for v, s in left_labels.items():
    ax.text(0, v, s, transform=tr_l, ha="right", va="center",
            fontsize=12, color=TXT)
off_r = ScaledTranslation(23 / 100, 6.5 / 100, fig.dpi_scale_trans)
tr_r = blended_transform_factory(ax2.transAxes, ax2.transData) + off_r
for v, s in right_labels.items():
    ax2.text(1, v, s, transform=tr_r, ha="left", va="center",
             fontsize=12, color=TXT)

# spines
for s in ("left", "top", "bottom"):
    ax2.spines[s].set_visible(False)
ax.spines["right"].set_visible(False)
ax.spines["left"].set_color("#fcd3a2")
ax.spines["left"].set_linewidth(1.3)
ax.spines["top"].set_color("#e6e6e6")
ax.spines["bottom"].set_color("#dadada")
ax2.spines["right"].set_color("#b4b4b4")
ax2.spines["right"].set_linewidth(1.5)

# title
fig.text(fx(38), fy(66), "Bitcoin: BTC Dominance", fontsize=21.6, color="#303030",
         ha="left", va="center")

# legend
fig.add_artist(Line2D([fx(86.5)], [fy(151)], marker="o", markersize=7.5, lw=0,
                      color=ORANGE, transform=fig.transFigure))
fig.text(fx(97.5), fy(151), "BTC Dominance", fontsize=10.6, color=TXT,
         ha="left", va="center")
fig.add_artist(Line2D([fx(264)], [fy(151)], marker="o", markersize=7.5, lw=0,
                      color=BLACK, transform=fig.transFigure))
fig.text(fx(275.5), fy(151), "Price [USD]", fontsize=10.6, color=TXT,
         ha="left", va="center")

# watermark (condensed heavy face, sized to the reference width), footer, logo
wm = fig.text(fx(9), fy(927), "WebGiaCoin.com News", fontsize=35, color="#ff1414",
              fontweight="bold", fontstretch="condensed",
              family=["Noto Sans SemiCondensed", "Noto Sans Condensed",
                      "Liberation Sans Narrow", "DejaVu Sans"],
              ha="left", va="center")
fig.canvas.draw()
wm_w = wm.get_window_extent().width
if wm_w > 0:
    wm.set_fontsize(35 * 463.0 / wm_w)

fig.text(fx(38), fy(970), "\u00a9 2024 Glassnode. All Rights Reserved.", fontsize=14.3,
         color="#7c7c7c", ha="left", va="center")
fig.text(fx(1762), fy(970), "glassnode", fontsize=28, color="#151515",
         fontweight="medium", ha="right", va="center")
fig.add_artist(Line2D([0, 1], [fy(1011), fy(1011)], color="#8a8a8a", lw=1.6,
                      transform=fig.transFigure))

fig.savefig("out.png", dpi=100, facecolor="white")
